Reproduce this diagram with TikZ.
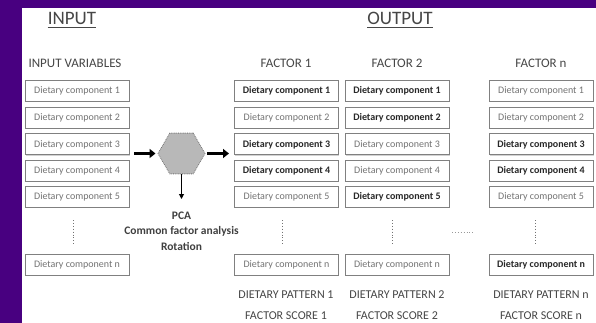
\documentclass[tikz,border=0pt]{standalone}
\usepackage{fontspec}
\setmainfont{Carlito}
\usetikzlibrary{shapes.geometric,arrows.meta,calc,shadows}
\definecolor{bgpurple}{RGB}{72,0,128}
\definecolor{hdrgray}{RGB}{70,70,70}
\definecolor{lightgray}{RGB}{115,115,115}
\definecolor{darkgray}{RGB}{40,40,40}
\begin{document}
\begin{tikzpicture}[x=1pt,y=-1pt,
  cbox/.style={draw=black!50, line width=1pt, fill=white, minimum width=104pt, minimum height=21pt, inner sep=0pt,
    drop shadow={shadow xshift=0.7pt, shadow yshift=-0.7pt, opacity=0.35},
    font=\fontsize{10}{11}\selectfont, text=lightgray},
  bbox/.style={cbox, font=\fontsize{10}{11}\selectfont\bfseries, text=darkgray},
  hdr/.style={font=\fontsize{13}{15}\selectfont, text=hdrgray},
  ftr/.style={font=\fontsize{12}{14}\selectfont, text=hdrgray},
  big/.style={font=\fontsize{19}{21}\selectfont, text=hdrgray, inner sep=0pt},
  vdots/.style={draw=black!55, line width=0.9pt, dotted},
  fatarrow/.style={line width=3pt, -{Triangle[length=6pt,width=9pt]}},
  thinarrow/.style={line width=1pt, -{Triangle[length=5pt,width=5pt]}}
]
\useasboundingbox (0,0) rectangle (596,323);
\clip (0,0) rectangle (596,323);
\fill[bgpurple] (0,0) rectangle (596,323);
\fill[white] (22,8) rectangle (596,323);

% titles
\node[big] (tin) at (72,18) {INPUT};
\node[big] (tout) at (400,18) {OUTPUT};
\draw[hdrgray, line width=1.2pt] ($(tin.south west)+(0,3)$) -- ($(tin.south east)+(0,3)$);
\draw[hdrgray, line width=1.2pt] ($(tout.south west)+(0,3)$) -- ($(tout.south east)+(0,3)$);

% headers
\node[hdr] (hin) at (75,63) {INPUT VARIABLES};
\node[hdr] (hf1) at (286,63) {FACTOR 1};
\node[hdr] (hf2) at (397,63) {FACTOR 2};
\node[hdr] (hfn) at (541,63) {FACTOR n};

% input column
\node[cbox] (in1) at (77,91) {Dietary component 1};
\node[cbox] (in2) at (77,118) {Dietary component 2};
\node[cbox] (in3) at (77,144.5) {Dietary component 3};
\node[cbox] (in4) at (77,171) {Dietary component 4};
\node[cbox] (in5) at (77,197) {Dietary component 5};
\node[cbox] (inn) at (77,265) {Dietary component n};

% factor 1
\node[bbox] (fa1) at (286.5,91) {Dietary component 1};
\node[cbox] (fa2) at (286.5,118) {Dietary component 2};
\node[bbox] (fa3) at (286.5,144.5) {Dietary component 3};
\node[bbox] (fa4) at (286.5,171) {Dietary component 4};
\node[cbox] (fa5) at (286.5,197) {Dietary component 5};
\node[cbox] (fan) at (286.5,265) {Dietary component n};

% factor 2
\node[bbox] (fb1) at (397,91) {Dietary component 1};
\node[bbox] (fb2) at (397,118) {Dietary component 2};
\node[cbox] (fb3) at (397,144.5) {Dietary component 3};
\node[cbox] (fb4) at (397,171) {Dietary component 4};
\node[bbox] (fb5) at (397,197) {Dietary component 5};
\node[cbox] (fbn) at (397,265) {Dietary component n};

% factor n
\node[cbox] (fn1) at (541,91) {Dietary component 1};
\node[cbox] (fn2) at (541,118) {Dietary component 2};
\node[bbox] (fn3) at (541,144.5) {Dietary component 3};
\node[bbox] (fn4) at (541,171) {Dietary component 4};
\node[cbox] (fn5) at (541,197) {Dietary component 5};
\node[bbox] (fnn) at (541,265) {Dietary component n};

% vertical dotted lines
\draw[vdots] (73,220) -- (73,246);
\draw[vdots] (282,220) -- (282,246);
\draw[vdots] (392,220) -- (392,246);
\draw[vdots] (535,220) -- (535,246);
% horizontal dots
\draw[draw=black!40, line width=0.9pt, dotted] (452,232) -- (475,232);

% hexagon
\node[regular polygon, regular polygon sides=6, minimum size=47pt, inner sep=0pt,
      fill=black!28, draw=black!55, line width=0.8pt, densely dotted] (hex) at (181.5,153.5) {};
\coordinate (ain) at (134,153.5);
\coordinate (aout) at (229,153.5);
\coordinate (adown) at (181.5,199);
\draw[fatarrow] (ain) -- ($(hex.west)+(-2,0)$);
\draw[fatarrow] ($(hex.east)+(2,0)$) -- (aout);
\draw[thinarrow] (hex.south) -- (adown);

\node[font=\fontsize{11.5}{15.5}\selectfont\bfseries, text=black!75, align=center] (pca) at (181.5,231)
  {PCA\\Common factor analysis\\Rotation};

% footers
\node[ftr] (dp1) at (286,295) {DIETARY PATTERN 1};
\node[ftr] (dp2) at (397,295) {DIETARY PATTERN 2};
\node[ftr] (dpn) at (541,295) {DIETARY PATTERN n};
\node[ftr] (fs1) at (286,315.5) {FACTOR SCORE 1};
\node[ftr] (fs2) at (397,315.5) {FACTOR SCORE 2};
\node[ftr] (fsn) at (541,315.5) {FACTOR SCORE n};
\end{tikzpicture}
\end{document}
